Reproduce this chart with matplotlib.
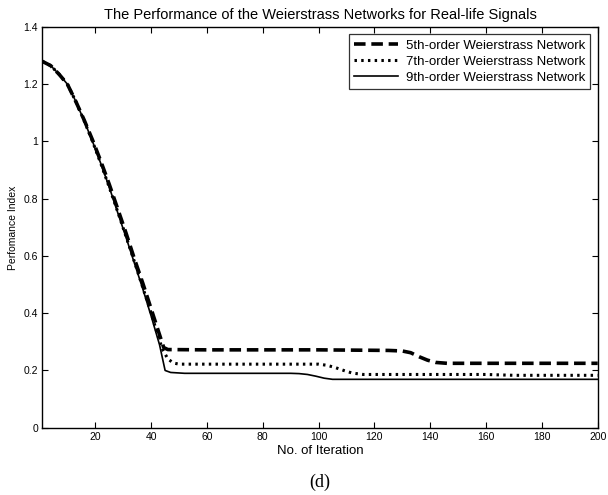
import matplotlib
matplotlib.use("Agg")
import matplotlib.pyplot as plt
from matplotlib.ticker import FuncFormatter

# ---- data ----
x5 = [1, 4, 7, 10, 13, 16, 19, 22, 25, 28, 31, 34, 37, 40, 43, 44.5, 46, 60, 100, 125, 130, 133, 136, 139, 142, 146, 200]
y5 = [1.28, 1.265, 1.235, 1.2, 1.14, 1.075, 1.005, 0.93, 0.85, 0.765, 0.68, 0.59, 0.505, 0.415, 0.325, 0.28, 0.273, 0.272, 0.272, 0.27, 0.268, 0.262, 0.248, 0.236, 0.228, 0.225, 0.225]

x7 = [1, 4, 7, 10, 13, 16, 19, 22, 25, 28, 31, 34, 37, 40, 42, 44, 46, 48, 50, 100, 103, 106, 109, 112, 116, 160, 170, 200]
y7 = [1.28, 1.265, 1.235, 1.2, 1.14, 1.072, 1.0, 0.922, 0.84, 0.755, 0.668, 0.58, 0.49, 0.4, 0.335, 0.275, 0.24, 0.226, 0.222, 0.222, 0.218, 0.21, 0.2, 0.191, 0.186, 0.186, 0.183, 0.183]

x9 = [1, 4, 7, 10, 13, 16, 19, 22, 25, 28, 31, 34, 37, 40, 43, 45, 47, 52, 90, 93, 96, 99, 102, 105, 200]
y9 = [1.28, 1.265, 1.235, 1.2, 1.14, 1.072, 1.0, 0.922, 0.84, 0.752, 0.665, 0.575, 0.485, 0.39, 0.29, 0.2, 0.193, 0.19, 0.19, 0.189, 0.186, 0.18, 0.173, 0.169, 0.169]

labels = ["5th-order Weierstrass Network",
          "7th-order Weierstrass Network",
          "9th-order Weierstrass Network"]
xticks = [20, 40, 60, 80, 100, 120, 140, 160, 180, 200]
yticks = [0, 0.2, 0.4, 0.6, 0.8, 1.0, 1.2, 1.4]

plt.rcParams['font.family'] = ['Liberation Sans', 'DejaVu Sans']

fig = plt.figure(figsize=(6.08, 4.95), dpi=100)
ax = fig.add_axes([42.3/608, 1-427.7/495, (597.7-42.3)/608, (427.7-27)/495])

ax.plot(x5, y5, color='black', linestyle=(0, (3.2, 1.6)), linewidth=2.6, label=labels[0])
ax.plot(x7, y7, color='black', linestyle=(0, (0.8, 1.4)), linewidth=2.2, label=labels[1])
ax.plot(x9, y9, color='black', linestyle='-', linewidth=1.2, label=labels[2])

ax.set_xlim(1, 200)
ax.set_ylim(0, 1.4)
ax.set_xticks(xticks)
ax.set_yticks(yticks)
ax.yaxis.set_major_formatter(FuncFormatter(lambda v, p: ('%g' % round(v, 2))))
ax.tick_params(direction='in', length=4, width=0.8, top=True, right=True,
               labelsize=7.5, pad=3)
for s in ax.spines.values():
    s.set_linewidth(1.0)

ax.set_title("The Performance of the Weierstrass Networks for Real-life Signals",
             fontsize=10.5, pad=6)
ax.set_xlabel("No. of Iteration", fontsize=9.5, labelpad=2)
ax.set_ylabel("Perfomance Index", fontsize=7.5, labelpad=4)

leg = ax.legend(loc='upper right', fontsize=9.5, frameon=True, fancybox=False,
                edgecolor='black', handlelength=3.3, handletextpad=0.6,
                borderpad=0.4, labelspacing=0.28, borderaxespad=0.55)
leg.get_frame().set_linewidth(0.9)

fig.text(320/608, 1-482/495, "(d)", ha='center', va='center',
         fontsize=13, family=['Liberation Serif', 'DejaVu Serif'])

fig.savefig("out.png", dpi=100)
